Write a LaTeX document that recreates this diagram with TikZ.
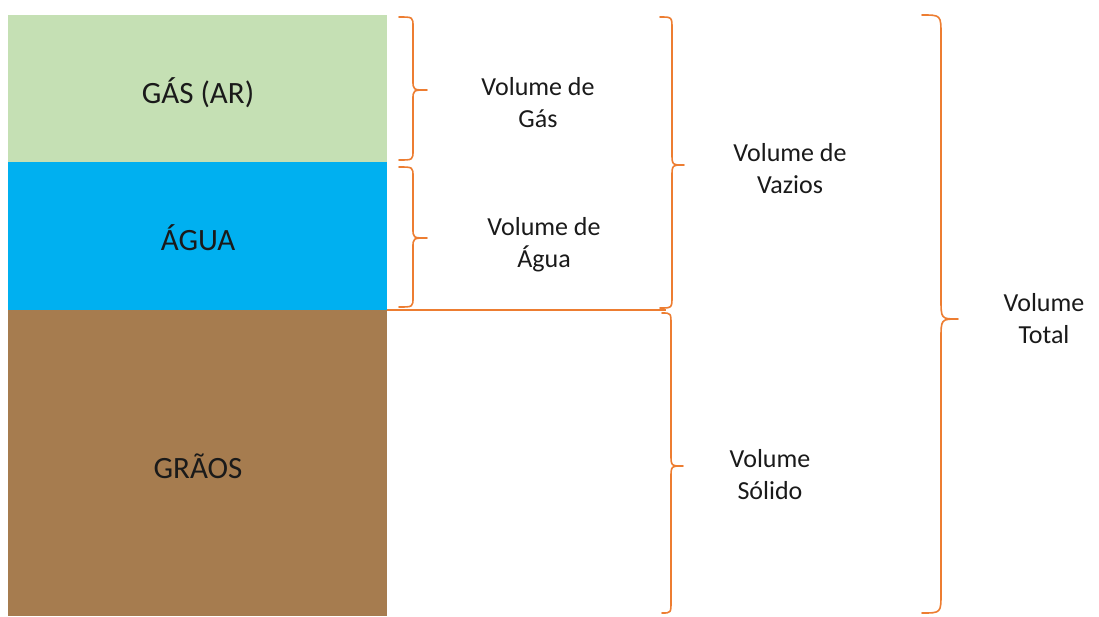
\documentclass[tikz,border=0pt]{standalone}
\usepackage{fontspec}
\setmainfont{Carlito}
\definecolor{gasgreen}{HTML}{C5E0B4}
\definecolor{aguablue}{HTML}{00B0F0}
\definecolor{graobrown}{HTML}{A67C4F}
\definecolor{braceor}{HTML}{ED7D31}
\definecolor{txt}{HTML}{1A1A1A}
\tikzset{
  layer/.style={draw=none, inner sep=0pt, minimum width=379pt},
  lbl/.style={font=\fontsize{26}{32}\selectfont, text=txt, align=center, inner sep=0pt},
  big/.style={font=\fontsize{31}{36}\selectfont, text=txt, inner sep=0pt},
  bracestyle/.style={draw=braceor, line width=1.6pt, line join=round, line cap=round}
}
\newcommand{\rbr}[7]{%
  \draw[bracestyle] (#1,#4) .. controls (#2,#4) .. (#2,#4+#7) -- (#2,#5-#7)
    .. controls (#2,#5) .. (#3,#5) .. controls (#2,#5) .. (#2,#5+#7)
    -- (#2,#6-#7) .. controls (#2,#6) .. (#1,#6);}
\begin{document}
\begin{tikzpicture}[x=1pt,y=-1pt]
\useasboundingbox (0,0) rectangle (1099,616);
\fill[white] (0,0) rectangle (1099,616);
% layers
\node[layer, fill=gasgreen, minimum height=147pt, anchor=north west] (gas) at (8,15) {};
\node[layer, fill=aguablue, minimum height=148pt, anchor=north west] (agua) at (8,162) {};
\node[layer, fill=graobrown, minimum height=306pt, anchor=north west] (graos) at (8,310) {};
\node[big] (tgas) at (198,93) {GÁS (AR)};
\node[big] (tagua) at (198,238) {ÁGUA};
\node[big] (tgraos) at (198,466) {GRÃOS};
% separator line
\coordinate (lineend) at (666,310);
\draw[draw=braceor, line width=2.4pt] (graos.north east) -- (lineend);
% braces
\rbr{399}{413}{427}{17}{90}{160}{10}
\rbr{399}{413}{427}{167}{238}{307}{10}
\rbr{660}{672}{684}{17}{165}{308}{12}
\rbr{662}{671}{683}{313}{466}{613}{12}
\rbr{922}{941}{958}{15}{319}{613}{20}
% labels
\node[lbl] (vgas) at (538,103) {Volume de\\Gás};
\node[lbl] (vagua) at (544,245) {Volume de\\Água};
\node[lbl] (vvaz) at (790,169) {Volume de\\Vazios};
\node[lbl] (vsol) at (770,475) {Volume\\Sólido};
\node[lbl] (vtot) at (1044,319) {Volume\\Total};
\end{tikzpicture}
\end{document}
